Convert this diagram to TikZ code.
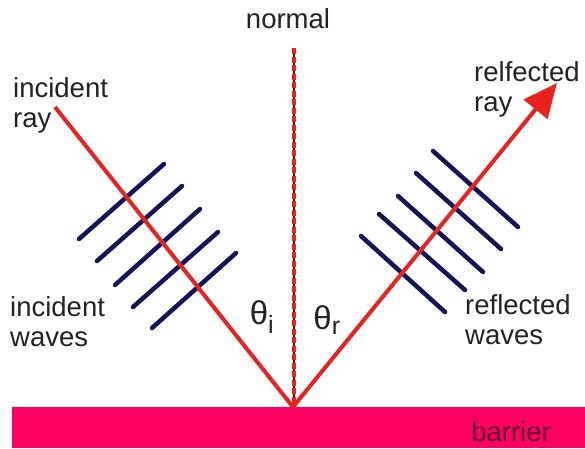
\documentclass[tikz,border=0pt]{standalone}
\usepackage{fontspec}
\setmainfont{Liberation Sans}
\usetikzlibrary{arrows.meta}
\definecolor{rayred}{HTML}{E8231E}
\definecolor{wavenavy}{HTML}{14145A}
\definecolor{barrierpink}{HTML}{FF0060}
\definecolor{barriertext}{HTML}{5E1030}
\definecolor{txt}{HTML}{222222}
\tikzset{
  lbl/.style={inner sep=0pt, text=txt, font=\fontsize{27.5}{30}\selectfont, align=left},
  ray/.style={draw=rayred, line width=4pt},
  wave/.style={draw=wavenavy, line width=4.5pt, line cap=round},
  theta/.style={inner sep=0pt, text=txt, font=\fontsize{33}{34}\selectfont}
}
\begin{document}
\begin{tikzpicture}[x=1pt,y=-1pt]
\useasboundingbox (0,0) rectangle (585,448);
\fill[white] (0,0) rectangle (585,448);
% barrier
\fill[barrierpink] (12,407) rectangle (585,448);
\node[lbl, text=barriertext, anchor=center] (barrier) at (511,432) {barrier};
% normal
\coordinate (ntop) at (294,48);
\coordinate (O) at (293,407);
\draw[draw=black!60!red, line width=2pt] (ntop) -- (294,407);
\draw[draw=rayred, line width=3.2pt, dash pattern=on 6pt off 2.5pt] (ntop) -- (294,407);
\node[lbl, anchor=center] (normal) at (288,19) {normal};
% waves incident
\draw[wave] (79,239) -- (164,164);
\draw[wave] (97,261) -- (182,186);
\draw[wave] (115,285) -- (200,209);
\draw[wave] (133,307) -- (218,232);
\draw[wave] (152,328) -- (236,253);
% waves reflected
\draw[wave] (433,151) -- (518,227);
\draw[wave] (416,173) -- (501,249);
\draw[wave] (398,196) -- (483,272);
\draw[wave] (379,214) -- (465,290);
\draw[wave] (361,236) -- (445,312);
% rays
\coordinate (A) at (55,107);
\coordinate (B) at (557,83);
\draw[ray] (A) -- (O);
\draw[ray, -{Triangle[length=34pt,width=30pt]}] (O) -- (B);
% labels
\node[lbl, anchor=north west] (incray) at (13,77) {incident\\ray};
\node[lbl, anchor=north west] (refray) at (474,61) {relfected\\ray};
\node[lbl, anchor=north west] (incw) at (10,296) {incident\\waves};
\node[lbl, anchor=north west] (refw) at (465,294) {reflected\\waves};
\node[theta, anchor=center] (thi) at (262,317) {θ\textsubscript{\fontsize{25}{25}\selectfont i}};
\node[theta, anchor=center] (thr) at (327,320) {θ\textsubscript{\fontsize{25}{25}\selectfont r}};
\end{tikzpicture}
\end{document}
